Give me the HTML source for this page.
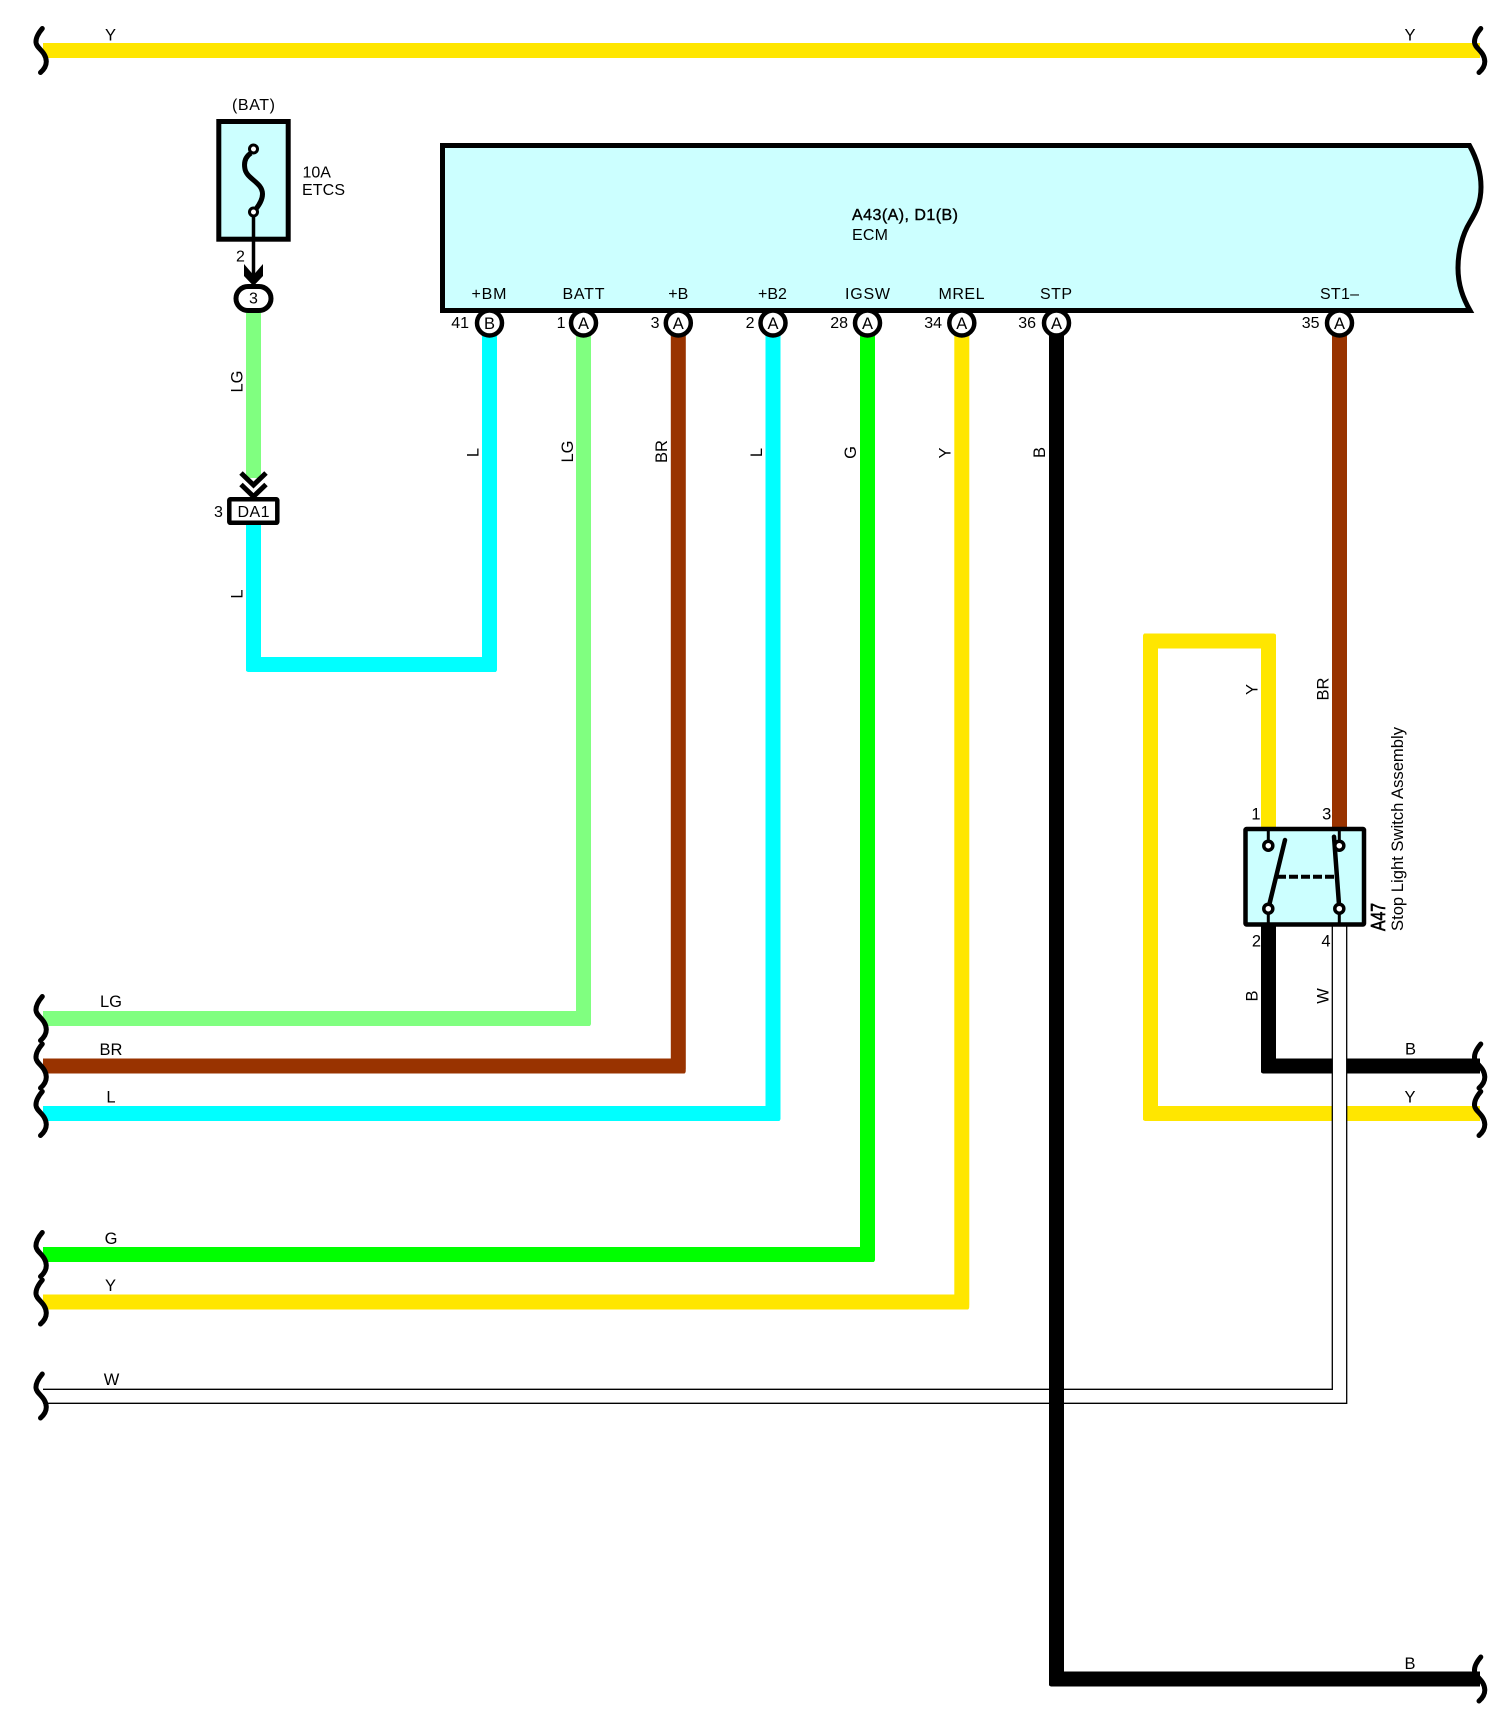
<!DOCTYPE html>
<html>
<head>
<meta charset="utf-8">
<style>
html,body{margin:0;padding:0;background:#fff}
svg{display:block}
text{font-family:"Liberation Sans",Arial,sans-serif;font-size:16px;fill:#000}
.m{text-anchor:middle}
.e{text-anchor:end}
.w{fill:none;stroke-width:15;stroke-linejoin:miter}
.p{fill:#fff;stroke:#000;stroke-width:4.5}
.big{font-size:16.5px}
</style>
</head>
<body>
<svg width="1506" height="1716" viewBox="0 0 1506 1716" xmlns="http://www.w3.org/2000/svg">
<defs>
<path id="brk" d="M0.8,-22 Q-6,-14 -5.5,-8 C-5,-2 4.5,1 4.8,11 Q4.8,17 -1,22" fill="none" stroke="#000" stroke-width="5" stroke-linecap="round"/>
<path id="cnr" d="M-1,-1H4A4,4 0 0 0 0,4H-1Z" fill="#fff"/>
</defs>
<rect width="1506" height="1716" fill="#fff"/>

<!-- wires -->
<path class="w" stroke="#FFE600" d="M43,50.5H1480"/>
<path class="w" stroke="#80FF80" d="M253.5,312V478"/>
<path class="w" stroke="#00FFFF" d="M253.5,525V664.5H489.5V325"/>
<path class="w" stroke="#80FF80" d="M583.5,325V1018.5H43"/>
<path class="w" stroke="#993300" d="M678.3,325V1066H43"/>
<path class="w" stroke="#00FFFF" d="M773,325V1113.5H43"/>
<path class="w" stroke="#00FF00" d="M867.5,325V1254.5H43"/>
<path class="w" stroke="#FFE600" d="M961.8,325V1302H43"/>
<path class="w" stroke="#993300" d="M1339.5,325V830"/>
<path class="w" stroke="#FFE600" d="M1268.5,830V641H1150.5V1113.5H1480"/>
<path class="w" stroke="#000" d="M1268.5,925V1066H1480"/>

<!-- rounded outer corners -->
<use href="#cnr" transform="translate(246,672) rotate(-90)"/>
<use href="#cnr" transform="translate(497,672) rotate(180)"/>
<use href="#cnr" transform="translate(591,1026) rotate(180)"/>
<use href="#cnr" transform="translate(685.8,1073.5) rotate(180)"/>
<use href="#cnr" transform="translate(780.5,1121) rotate(180)"/>
<use href="#cnr" transform="translate(875,1262) rotate(180)"/>
<use href="#cnr" transform="translate(969.3,1309.5) rotate(180)"/>
<use href="#cnr" transform="translate(1143,633.5)"/>
<use href="#cnr" transform="translate(1276,633.5) rotate(90)"/>
<use href="#cnr" transform="translate(1143,1121) rotate(-90)"/>
<use href="#cnr" transform="translate(1261,1073.5) rotate(-90)"/>

<!-- W wire -->
<rect x="1332.3" y="926" width="14.4" height="463" fill="#fff"/>
<path d="M1332.3,926V1389.3H43M1346.7,926V1403.3H43" fill="none" stroke="#000" stroke-width="1.3"/>

<!-- STP black over W -->
<path class="w" stroke="#000" d="M1056.5,325V1679H1480"/>
<use href="#cnr" transform="translate(1049,1686.5) rotate(-90)"/>

<!-- breaks -->
<use href="#brk" x="41.5" y="50.5"/>
<use href="#brk" x="41.5" y="1018.5"/>
<use href="#brk" x="41.5" y="1066"/>
<use href="#brk" x="41.5" y="1113.5"/>
<use href="#brk" x="41.5" y="1254.5"/>
<use href="#brk" x="41.5" y="1302"/>
<use href="#brk" x="41.5" y="1396"/>
<use href="#brk" x="1480" y="50.5"/>
<use href="#brk" x="1480" y="1066"/>
<use href="#brk" x="1480" y="1113.5"/>
<use href="#brk" x="1480" y="1679"/>

<!-- fuse -->
<rect x="218.8" y="121.5" width="69.4" height="117.7" fill="#CCFFFF" stroke="#000" stroke-width="5"/>
<path d="M251,153 C245,157 244,163 244.8,168 C246,179 262.5,182 262.5,194 C262.5,200 259,205 256,209" fill="none" stroke="#000" stroke-width="5"/>
<circle cx="253.5" cy="149" r="4" fill="#fff" stroke="#000" stroke-width="3"/>
<circle cx="253.5" cy="212" r="4" fill="#fff" stroke="#000" stroke-width="3"/>
<path d="M253.5,216V278" stroke="#000" stroke-width="3.5" fill="none"/>
<polygon points="244,264 253.5,275 263,264 263,276 253.5,286 244,276" fill="#000"/>
<rect x="236" y="286.5" width="35" height="24" rx="12" ry="12" fill="#fff" stroke="#000" stroke-width="5"/>
<text class="m" x="253.5" y="303.5">3</text>
<text class="m" x="253.5" y="110" textLength="43">(BAT)</text>
<text x="302.5" y="177.5">10A</text>
<text x="302" y="195" textLength="43">ETCS</text>
<text class="m" x="240.5" y="261.5">2</text>

<!-- DA1 -->
<path d="M241,473L253.5,485L266,473M241,484.5L253.5,496.5L266,484.5" fill="none" stroke="#000" stroke-width="5"/>
<rect x="229.3" y="499.3" width="48" height="23.5" rx="1" fill="#fff" stroke="#000" stroke-width="4.5"/>
<text class="m" x="253.5" y="517" textLength="32">DA1</text>
<text class="m" x="218.5" y="517">3</text>

<!-- ECM -->
<path d="M442.5,145.5H1469.5 C1477,159 1481,172 1481,187 C1481,203 1476,212 1470,222 C1462,235 1458,252 1458,268 C1458,285 1463,298 1470,310.5H442.5Z" fill="#CCFFFF" stroke="#000" stroke-width="5" stroke-linejoin="miter"/>
<text x="852" y="220" textLength="106" stroke="#000" stroke-width="0.4">A43(A), D1(B)</text>
<text x="852" y="240" textLength="36">ECM</text>
<text class="m" x="489" y="299" textLength="35">+BM</text>
<text class="m" x="583.5" y="299" textLength="42">BATT</text>
<text class="m" x="678.3" y="299">+B</text>
<text class="m" x="772.5" y="299">+B2</text>
<text class="m" x="867.5" y="299" textLength="45">IGSW</text>
<text class="m" x="961.5" y="299" textLength="46">MREL</text>
<text class="m" x="1056" y="299" textLength="32">STP</text>
<text class="m" x="1339.5" y="299" textLength="39">ST1–</text>

<!-- pins -->
<circle class="p" cx="489.5" cy="323" r="12.5"/><text class="m big" x="489.5" y="329">B</text><text class="e" x="469" y="328">41</text>
<circle class="p" cx="583.5" cy="323" r="12.5"/><text class="m big" x="583.5" y="329">A</text><text class="e" x="565.5" y="328">1</text>
<circle class="p" cx="678.3" cy="323" r="12.5"/><text class="m big" x="678.3" y="329">A</text><text class="e" x="659.5" y="328">3</text>
<circle class="p" cx="773" cy="323" r="12.5"/><text class="m big" x="773" y="329">A</text><text class="e" x="754.5" y="328">2</text>
<circle class="p" cx="867.5" cy="323" r="12.5"/><text class="m big" x="867.5" y="329">A</text><text class="e" x="848" y="328">28</text>
<circle class="p" cx="961.8" cy="323" r="12.5"/><text class="m big" x="961.8" y="329">A</text><text class="e" x="942" y="328">34</text>
<circle class="p" cx="1056.5" cy="323" r="12.5"/><text class="m big" x="1056.5" y="329">A</text><text class="e" x="1036" y="328">36</text>
<circle class="p" cx="1339.5" cy="323" r="12.5"/><text class="m big" x="1339.5" y="329">A</text><text class="e" x="1319.5" y="328">35</text>

<!-- horizontal wire labels -->
<text class="m big" x="110.5" y="40.5">Y</text>
<text class="m big" x="1410" y="40.5">Y</text>
<text class="m big" x="111" y="1007">LG</text>
<text class="m big" x="111" y="1055">BR</text>
<text class="m big" x="111" y="1102.5">L</text>
<text class="m big" x="111" y="1244">G</text>
<text class="m big" x="110.5" y="1291">Y</text>
<text class="m big" x="111.5" y="1385">W</text>
<text class="m big" x="1410.5" y="1054.5">B</text>
<text class="m big" x="1410" y="1102.5">Y</text>
<text class="m big" x="1410" y="1669">B</text>

<!-- vertical wire labels -->
<text class="m big" transform="translate(242.5,381.5) rotate(-90)">LG</text>
<text class="m big" transform="translate(242.5,594) rotate(-90)">L</text>
<text class="m big" transform="translate(478.5,452.5) rotate(-90)">L</text>
<text class="m big" transform="translate(573,451.5) rotate(-90)">LG</text>
<text class="m big" transform="translate(667,451.5) rotate(-90)">BR</text>
<text class="m big" transform="translate(762,452.5) rotate(-90)">L</text>
<text class="m big" transform="translate(856,452.5) rotate(-90)">G</text>
<text class="m big" transform="translate(950.5,453) rotate(-90)">Y</text>
<text class="m big" transform="translate(1045,452.5) rotate(-90)">B</text>
<text class="m big" transform="translate(1257.5,689.5) rotate(-90)">Y</text>
<text class="m big" transform="translate(1328.5,689) rotate(-90)">BR</text>
<text class="m big" transform="translate(1257.5,996) rotate(-90)">B</text>
<text class="m big" transform="translate(1328.5,996) rotate(-90)">W</text>

<!-- switch -->
<rect x="1245.5" y="829" width="118.5" height="95.5" rx="1" fill="#CCFFFF" stroke="#000" stroke-width="4.5"/>
<path d="M1268.3,829V842M1268.3,912V925M1339.3,829V842M1339.3,912V925" stroke="#000" stroke-width="3" fill="none"/>
<path d="M1268.3,908.7L1285,840M1339.3,908.7L1334,836.7" stroke="#000" stroke-width="4.5" stroke-linecap="round" fill="none"/>
<path d="M1277,876.7H1336.7" stroke="#000" stroke-width="4" stroke-dasharray="9 3" fill="none"/>
<circle cx="1268.3" cy="845.7" r="4.5" fill="#fff" stroke="#000" stroke-width="3.5"/>
<circle cx="1339.3" cy="845.7" r="4.5" fill="#fff" stroke="#000" stroke-width="3.5"/>
<circle cx="1268.3" cy="908.7" r="4.5" fill="#fff" stroke="#000" stroke-width="3.5"/>
<circle cx="1339.3" cy="908.7" r="4.5" fill="#fff" stroke="#000" stroke-width="3.5"/>
<text class="m big" x="1256" y="819.5">1</text>
<text class="m big" x="1326.7" y="819.5">3</text>
<text class="m big" x="1256.5" y="946.5">2</text>
<text class="m big" x="1326" y="946.5">4</text>
<text transform="translate(1385,931) rotate(-90)" style="font-size:20px" stroke="#000" stroke-width="0.7" textLength="28" lengthAdjust="spacingAndGlyphs">A47</text>
<text transform="translate(1403,931) rotate(-90)" textLength="204" lengthAdjust="spacingAndGlyphs" style="font-size:16.5px">Stop Light Switch Assembly</text>
</svg>
</body>
</html>
